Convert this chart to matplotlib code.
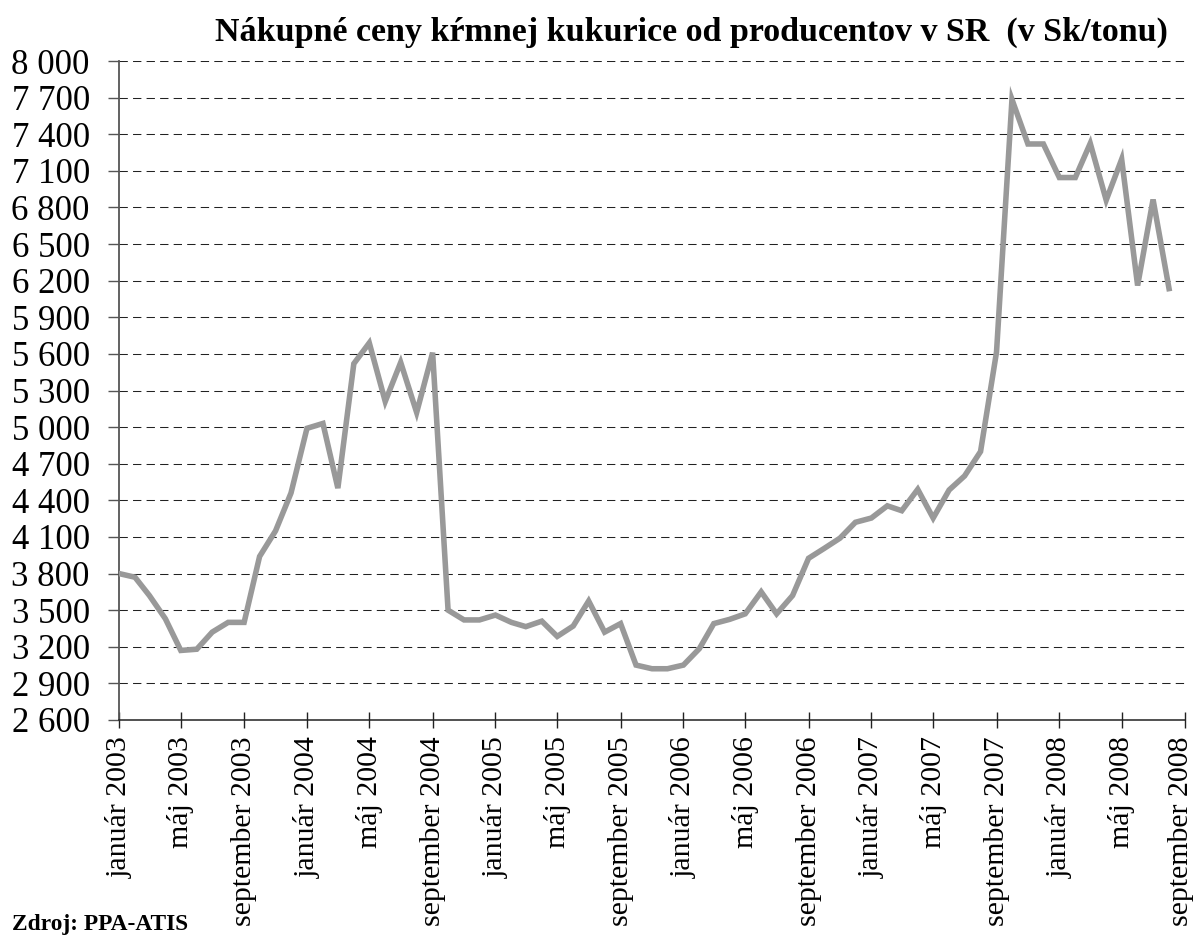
import matplotlib
matplotlib.use("Agg")
import matplotlib.pyplot as plt
import matplotlib.transforms as mtransforms
import pandas as pd

plt.rcParams['font.family'] = ['Liberation Serif', 'DejaVu Serif']

title = "Nákupné ceny kŕmnej kukurice od producentov v SR  (v Sk/tonu)"
source = "Zdroj: PPA-ATIS"

start_month = "2003-01-01"
prices = [
    3800, 3770, 3620, 3430, 3170, 3180, 3320, 3400, 3400, 3940, 4150, 4460,   # 2003
    4990, 5030, 4500, 5520, 5690, 5210, 5530, 5120, 5610, 3500, 3420, 3420,   # 2004
    3460, 3400, 3365, 3410, 3285, 3370, 3575, 3320, 3390, 3050, 3020, 3020,   # 2005
    3050, 3185, 3390, 3425, 3470, 3650, 3470, 3620, 3925, 4005, 4090, 4220,   # 2006
    4255, 4355, 4315, 4490, 4255, 4485, 4600, 4800, 5615, 7685, 7320, 7320,   # 2007
    7045, 7045, 7325, 6860, 7195, 6160, 6865, 6135,                           # 2008
]

tick_dates = ["2003-01-01", "2003-05-01", "2003-09-01", "2004-01-01", "2004-05-01",
              "2004-09-01", "2005-01-01", "2005-05-01", "2005-09-01", "2006-01-01",
              "2006-05-01", "2006-09-01", "2007-01-01", "2007-05-01", "2007-09-01",
              "2008-01-01", "2008-05-01", "2008-09-01"]
tick_labels = ["január 2003", "máj 2003", "september 2003", "január 2004", "máj 2004",
               "september 2004", "január 2005", "máj 2005", "september 2005", "január 2006",
               "máj 2006", "september 2006", "január 2007", "máj 2007", "september 2007",
               "január 2008", "máj 2008", "september 2008"]

y_ticks = [2600, 2900, 3200, 3500, 3800, 4100, 4400, 4700, 5000, 5300, 5600,
           5900, 6200, 6500, 6800, 7100, 7400, 7700, 8000]

dates = pd.date_range(start_month, periods=len(prices), freq="MS")
tdates = pd.to_datetime(tick_dates)

fig = plt.figure(figsize=(11.97, 9.36), dpi=100)
ax = fig.add_axes([119/1197, 216/936, (1185-119)/1197, (721-62)/936])

ax.plot(dates, prices, color="#999999", linewidth=4.0, solid_joinstyle="miter", zorder=3)

ax.set_xlim(tdates[0], tdates[-1])
ax.set_ylim(2600, 8000)
ax.set_yticks(y_ticks)
ax.set_yticklabels([f"{v:,}".replace(",", " ") for v in y_ticks])
ax.set_xticks(tdates)
ax.set_xticklabels(tick_labels, rotation=90, ha="center", va="top")

for v in y_ticks[1:]:
    ax.axhline(v, color="#222222", linewidth=0.75, linestyle=(0, (8, 5)), zorder=1)

for s in ["top", "right"]:
    ax.spines[s].set_visible(False)
ax.spines["left"].set_color("#555555")
ax.spines["left"].set_linewidth(1.3)
ax.spines["bottom"].set_color("#222222")
ax.spines["bottom"].set_linewidth(1.1)

ax.tick_params(axis="y", direction="out", length=8, width=1, color="#555555",
               labelsize=25, pad=13)
ax.tick_params(axis="x", direction="inout", length=11.5, width=1, color="#222222",
               labelsize=21.5, pad=6)

# nudge the last x label slightly left so it stays inside the canvas
last = ax.get_xticklabels()[-1]
last.set_transform(last.get_transform() +
                   mtransforms.ScaledTranslation(-4/100, 0, fig.dpi_scale_trans))

fig.text(691/1197, 1 - 41/936, title, ha="center", va="baseline",
         fontsize=24.5, fontweight="bold")
fig.text(12/1197, 1 - 930/936, source, ha="left", va="baseline",
         fontsize=16.8, fontweight="bold")

fig.savefig("out.png", dpi=100)
